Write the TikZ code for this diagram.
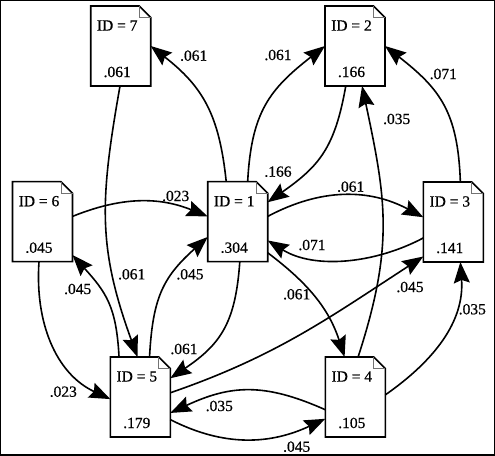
\documentclass[tikz,border=0pt]{standalone}
\usepackage{fontspec}
\setmainfont[FakeBold=0.6,AutoFakeBold=0.6]{Liberation Serif}
\usetikzlibrary{arrows.meta}
\tikzset{
  docnode/.style={rectangle, minimum width=60pt, minimum height=80pt, inner sep=0pt, outer sep=0pt},
  docline/.style={line width=1.6pt, line join=miter},
  foldline/.style={line width=0.8pt, black!55},
  edge/.style={line width=1.6pt, -{Stealth[length=21pt, width=16pt, inset=3pt]}},
  lbl/.style={inner sep=0pt, font=\fontsize{15.5}{15.5}\selectfont\bfseries}
}
\begin{document}
\begin{tikzpicture}[x=1pt, y=1pt]
  \useasboundingbox (0,0) rectangle (495,455);
  \draw[line width=2.4pt] (0,0) rectangle (495,455);
  \foreach \id/\x/\y/\val in {7/120.7/409/.061, 6/42.5/233.3/.045, 1/237.7/233.3/.304,
      2/355/409/.166, 3/453.3/233/.141, 5/140.3/58/.179, 4/355.3/58/.105} {
    \node[docnode] (n\id) at (\x,\y) {};
    \draw[docline] (n\id.north west) -- ([xshift=-11.5pt]n\id.north east)
      -- ([yshift=-11.5pt]n\id.north east) -- (n\id.south east) -- (n\id.south west) -- cycle;
    \draw[foldline] ([xshift=-11.5pt]n\id.north east) -- ([xshift=-11.5pt, yshift=-11.5pt]n\id.north east)
      -- ([yshift=-11.5pt]n\id.north east);
    \node[lbl] (id\id) at ([xshift=-3.5pt, yshift=20.5pt]n\id.center) {ID = \id};
    \node[lbl] (val\id) at ([xshift=-3.5pt, yshift=-26pt]n\id.center) {\val};
  }
  \draw[edge] (n1.106) to[out=96, in=-38, looseness=1.1] (n7.0);
  \draw[edge] (n1.76.5) to[out=87, in=-142, looseness=1.15] (n2.180);
  \draw[edge] (n2.-103) to[out=-100, in=35, looseness=1.15] (n1.33.7);
  \draw[edge] (n1.10.8) to[out=28, in=152] (n3.171);
  \draw[edge] (n3.208.5) to[out=208, in=-32, looseness=0.9] (n1.-32.3);
  \draw[edge] (n3.80.5) to[out=92, in=-38, looseness=1.15] (n2.0);
  \draw[edge] (n4.86.5) to[out=72, in=-78, looseness=1.1] (n2.-80.5);
  \draw[edge] (n1.-46.5) to[out=-37, in=108] (n4.105.4);
  \draw[edge] (n5.8) to[out=19, in=213] (n3.229.6);
  \draw[edge] (n4.4) to[out=35, in=-86] (n3.-80.5);
  \draw[edge] (n4.203.4) to[out=156, in=25, looseness=1.1] (n5.-28.5);
  \draw[edge] (n5.-37.5) to[out=-27, in=205] (n4.216);
  \draw[edge] (n5.77) to[out=87, in=222, looseness=1.15] (n1.207.5);
  \draw[edge] (n1.-87.7) to[out=-94, in=34, looseness=1.15] (n5.32);
  \draw[edge] (n5.118.8) to[out=93, in=-48, looseness=1.15] (n6.-48);
  \draw[edge] (n7.-91) to[out=-100, in=110, looseness=1.1] (n5.94.3);
  \draw[edge] (n6.10.8) to[out=22, in=158] (n1.170.5);
  \draw[edge] (n6.-95) to[out=-94, in=155] (n5.184);
  \foreach \val/\x/\y [count=\i] in {.061/193.7/399.3, .023/175.7/259, .061/278/400, .071/443.3/381,
      .035/396.7/336, .166/278/283.3, .061/350.7/268.3, .071/312/210, .045/410/168,
      .061/296.7/160.7, .035/472.3/145.7, .045/296.7/8.3, .035/219.3/49, .061/184/106,
      .045/190/180.7, .061/131.7/180.7, .045/77.7/166, .023/63.3/63.3}
    \node[lbl] (lbl\i) at (\x,\y) {\val};
\end{tikzpicture}
\end{document}
